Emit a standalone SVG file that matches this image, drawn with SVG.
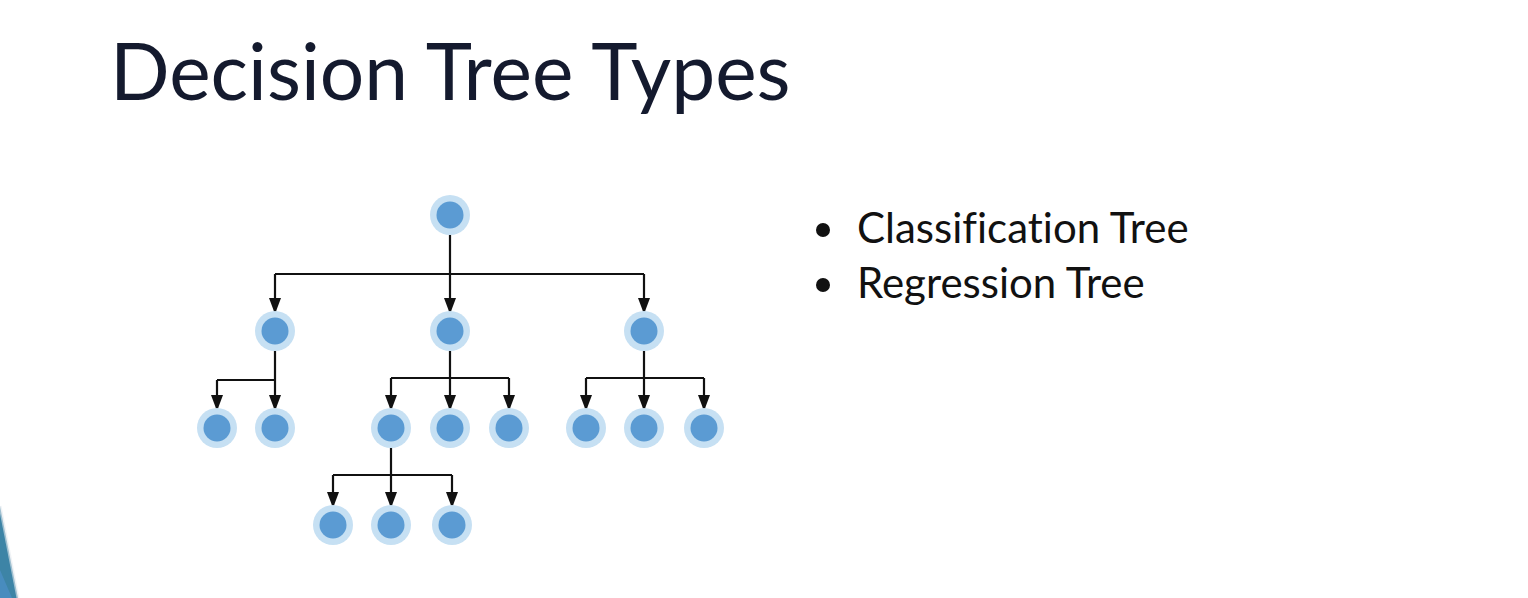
<svg xmlns="http://www.w3.org/2000/svg" width="1528" height="598" viewBox="0 0 1528 598">
  <style>
    .title { font-family: Lato, "Open Sans", sans-serif; font-size: 78.5px; fill: #141a2e; }
    .item { font-family: Lato, "Open Sans", sans-serif; font-size: 42px; fill: #111111; font-variant-ligatures: none; }
    .halo { fill: #c6e0f3; }
    .core { fill: #5b9bd3; }
    .edge { fill: none; stroke: #111111; stroke-width: 2.2; }
  </style>
  <defs>
    <marker id="arrow" viewBox="0 0 16 12" refX="16" refY="6" markerWidth="16" markerHeight="12" markerUnits="userSpaceOnUse" orient="auto">
      <path d="M0,0 L16,6 L0,12 Z" fill="#111111"/>
    </marker>
    <g id="node">
      <circle class="halo" r="20"/>
      <circle class="core" r="13.5"/>
    </g>
  </defs>

  <rect width="1528" height="598" fill="#ffffff"/>

  <!-- slide corner accent -->
  <g id="corner-accent">
    <path d="M0,506 L18,598 L0,598 Z" fill="#3d84a6"/>
    <path d="M0,570 L12,598 L0,598 Z" fill="#4b8fc4" opacity="0.8"/>
    <path d="M0,506 L18,598" stroke="#e4eaee" stroke-width="3" fill="none" opacity="0.6"/>
  </g>

  <text class="title" x="110" y="100">Decision Tree Types</text>

  <g id="bullets">
    <circle cx="823" cy="230" r="7" fill="#111111"/>
    <text class="item" x="857" y="243">Classification Tree</text>
    <circle cx="823" cy="285" r="7" fill="#111111"/>
    <text class="item" x="857" y="298">Regression Tree</text>
  </g>

  <!-- connectors: vertical drops join a horizontal bus, arrows end at child halos -->
  <g id="connectors">
    <path class="edge" d="M450,235 V274 M275,274 H644"/>
    <path class="edge" d="M275,274 V314" marker-end="url(#arrow)"/>
    <path class="edge" d="M450,274 V314" marker-end="url(#arrow)"/>
    <path class="edge" d="M644,274 V314" marker-end="url(#arrow)"/>

    <path class="edge" d="M275,351 V380 M217,380 H275"/>
    <path class="edge" d="M217,380 V411" marker-end="url(#arrow)"/>
    <path class="edge" d="M275,380 V411" marker-end="url(#arrow)"/>

    <path class="edge" d="M450,351 V378 M391,378 H509"/>
    <path class="edge" d="M391,378 V411" marker-end="url(#arrow)"/>
    <path class="edge" d="M450,378 V411" marker-end="url(#arrow)"/>
    <path class="edge" d="M509,378 V411" marker-end="url(#arrow)"/>

    <path class="edge" d="M644,351 V378 M586,378 H704"/>
    <path class="edge" d="M586,378 V411" marker-end="url(#arrow)"/>
    <path class="edge" d="M644,378 V411" marker-end="url(#arrow)"/>
    <path class="edge" d="M704,378 V411" marker-end="url(#arrow)"/>

    <path class="edge" d="M391,448 V475 M333,475 H452"/>
    <path class="edge" d="M333,475 V508" marker-end="url(#arrow)"/>
    <path class="edge" d="M391,475 V508" marker-end="url(#arrow)"/>
    <path class="edge" d="M452,475 V508" marker-end="url(#arrow)"/>
  </g>

  <g id="root"><use href="#node" x="450" y="215"/></g>
  <g id="n1"><use href="#node" x="275" y="331"/></g>
  <g id="n2"><use href="#node" x="450" y="331"/></g>
  <g id="n3"><use href="#node" x="644" y="331"/></g>
  <g id="n1a"><use href="#node" x="217" y="428"/></g>
  <g id="n1b"><use href="#node" x="275" y="428"/></g>
  <g id="n2a"><use href="#node" x="391" y="428"/></g>
  <g id="n2b"><use href="#node" x="450" y="428"/></g>
  <g id="n2c"><use href="#node" x="509" y="428"/></g>
  <g id="n3a"><use href="#node" x="586" y="428"/></g>
  <g id="n3b"><use href="#node" x="644" y="428"/></g>
  <g id="n3c"><use href="#node" x="704" y="428"/></g>
  <g id="n2a1"><use href="#node" x="333" y="525"/></g>
  <g id="n2a2"><use href="#node" x="391" y="525"/></g>
  <g id="n2a3"><use href="#node" x="452" y="525"/></g>
</svg>
